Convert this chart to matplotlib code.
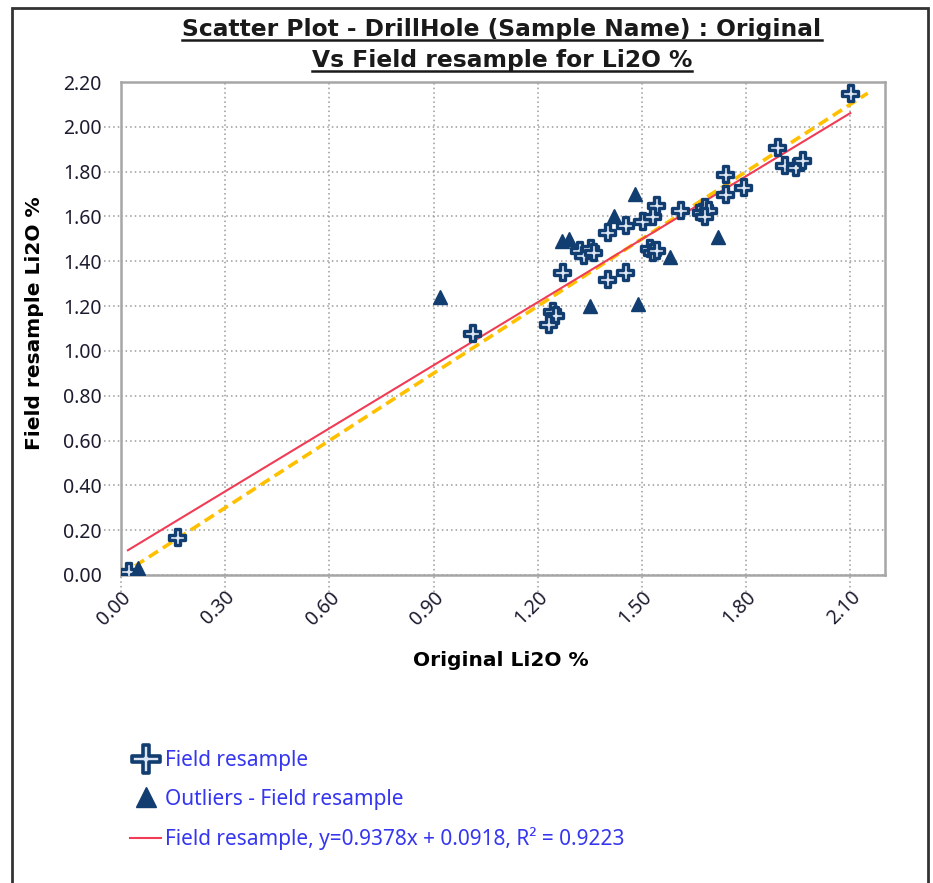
import matplotlib
matplotlib.use("Agg")
import matplotlib.pyplot as plt
from matplotlib.lines import Line2D
from matplotlib.patches import Rectangle
from matplotlib.path import Path
import matplotlib.transforms as mtransforms

# ---- data -------------------------------------------------------------
field_x = [0.02, 0.16, 1.01, 1.24, 1.25, 1.23, 1.27, 1.32, 1.33, 1.35, 1.36,
           1.40, 1.40, 1.45, 1.45, 1.50, 1.52, 1.53, 1.54, 1.54, 1.53, 1.61,
           1.67, 1.68, 1.69, 1.68, 1.74, 1.74, 1.79, 1.89, 1.91, 1.94, 1.96,
           2.10]
field_y = [0.02, 0.17, 1.08, 1.18, 1.16, 1.12, 1.35, 1.45, 1.43, 1.46, 1.44,
           1.32, 1.53, 1.56, 1.35, 1.58, 1.46, 1.44, 1.45, 1.65, 1.60, 1.63,
           1.62, 1.64, 1.63, 1.60, 1.79, 1.70, 1.73, 1.91, 1.83, 1.82, 1.85,
           2.15]

outlier_x = [0.05, 0.92, 1.27, 1.29, 1.35, 1.42, 1.48, 1.49, 1.58, 1.72]
outlier_y = [0.03, 1.24, 1.49, 1.50, 1.20, 1.60, 1.70, 1.21, 1.42, 1.51]

slope = 0.9378
intercept = 0.0918
r_squared = 0.9223

x_ticks = [0.00, 0.30, 0.60, 0.90, 1.20, 1.50, 1.80, 2.10]
y_ticks = [0.00, 0.20, 0.40, 0.60, 0.80, 1.00, 1.20, 1.40, 1.60, 1.80, 2.00, 2.20]

title_lines = ["Scatter Plot - DrillHole (Sample Name) : Original",
               "Vs Field resample for Li2O %"]
x_label = "Original Li2O %"
y_label = "Field resample Li2O %"
legend_labels = ["Field resample",
                 "Outliers - Field resample",
                 "Field resample, y=%.4fx + %.4f, R\u00b2 = %.4f" % (slope, intercept, r_squared)]

# ---- style ------------------------------------------------------------
FONT = ["Noto Sans", "DejaVu Sans"]
BOLD_FONT = ["DejaVu Sans"]
plt.rcParams["font.family"] = FONT
NAVY = "#123d70"
PLUS_FACE = "#dde6f2"
GRID = "#9a9a9a"
TEXT_BLUE = "#3636f0"
TICK_TEXT = "#1c1c30"


def plus_path(half_arm):
    """Closed plus-shaped outline with arms of half-width half_arm (unit box)."""
    a = half_arm
    verts = [(-a, 1), (a, 1), (a, a), (1, a), (1, -a), (a, -a), (a, -1),
             (-a, -1), (-a, -a), (-1, -a), (-1, a), (-a, a), (-a, 1)]
    codes = [Path.MOVETO] + [Path.LINETO] * 11 + [Path.CLOSEPOLY]
    return Path(verts, codes)


W, H = 933, 883
fig = plt.figure(figsize=(W / 100, H / 100), dpi=100)
fig.patch.set_facecolor("white")


def fx(px):
    return px / W


def fy(py):
    return 1 - py / H


ax = fig.add_axes([fx(121), fy(575), fx(885) - fx(121), fy(82) - fy(575)])
ax.set_xlim(0, 2.2)
ax.set_ylim(0, 2.2)

# grid
ax.set_axisbelow(True)
ax.grid(True, color=GRID, linestyle=(0, (1, 2)), linewidth=1.1)
for s in ax.spines.values():
    s.set_color("#a6a6a6")
    s.set_linewidth(1.8)

ax.set_xticks(x_ticks)
ax.set_yticks(y_ticks)
ax.set_xticklabels(["%.2f" % v for v in x_ticks], rotation=45, ha="right",
                   va="top", rotation_mode="anchor", color=TICK_TEXT, fontsize=14)
ax.set_yticklabels(["%.2f" % v for v in y_ticks], color=TICK_TEXT, fontsize=14)
ax.tick_params(axis="both", length=0)
ax.tick_params(axis="y", pad=14)
ax.tick_params(axis="x", pad=9)

# dotted tick extensions outside the frame
ytr = mtransforms.blended_transform_factory(ax.transAxes, ax.transData)
for v in y_ticks[1:-1]:
    ax.add_line(Line2D([-0.022, 0], [v, v], transform=ytr, color=GRID,
                       linestyle=(0, (1, 2)), linewidth=1.1, clip_on=False))
xtr = mtransforms.blended_transform_factory(ax.transData, ax.transAxes)
for v in x_ticks:
    ax.add_line(Line2D([v, v], [-0.035, 0], transform=xtr, color=GRID,
                       linestyle=(0, (1, 2)), linewidth=1.1, clip_on=False))

# 1:1 reference line
lim = max(max(field_x), max(field_y))
ax.plot([0, lim], [0, lim], color="#ffc000", linestyle=(0, (3, 1.6)),
        linewidth=2.6, zorder=2)

# regression line over the sample range
x0, x1 = min(field_x), max(field_x)
ax.plot([x0, x1], [slope * x0 + intercept, slope * x1 + intercept],
        color="#f03c55", linewidth=1.5, zorder=3)

# points
ax.plot(field_x, field_y, linestyle="none", marker=plus_path(0.3), markersize=12,
        markerfacecolor=PLUS_FACE, markeredgecolor=NAVY, markeredgewidth=2.4,
        zorder=4)
ax.plot(outlier_x, outlier_y, linestyle="none", marker="^", markersize=10,
        markerfacecolor=NAVY, markeredgecolor=NAVY, zorder=4)

# axis titles
fig.text(fx(35), fy(323), y_label, rotation=90, ha="center", va="center",
         fontsize=14.5, fontweight="bold", color="black", family=BOLD_FONT)
fig.text(fx(501), fy(661), x_label, ha="center", va="center",
         fontsize=14.5, fontweight="bold", color="black", family=BOLD_FONT)

# underlined two-line title
title_texts = [
    fig.text(fx(502), fy(36), title_lines[0], ha="center", va="baseline",
             fontsize=16.8, fontweight="bold", color="#1a1a1a", family=BOLD_FONT),
    fig.text(fx(502), fy(67), title_lines[1], ha="center", va="baseline",
             fontsize=16.8, fontweight="bold", color="#1a1a1a", family=BOLD_FONT),
]

# legend
handles = [
    Line2D([], [], linestyle="none", marker=plus_path(0.22), markersize=20,
           markerfacecolor=PLUS_FACE, markeredgecolor=NAVY, markeredgewidth=2.6),
    Line2D([], [], linestyle="none", marker="^", markersize=15,
           markerfacecolor=NAVY, markeredgecolor=NAVY),
    Line2D([], [], color="#f03c55", linewidth=1.5),
]
leg = fig.legend(handles, legend_labels, loc="upper left",
                 bbox_to_anchor=(fx(130), fy(750)), frameon=False,
                 fontsize=15, labelcolor=TEXT_BLUE, handlelength=1.5,
                 handletextpad=0.2, labelspacing=0.85, borderaxespad=0,
                 borderpad=0)

# outer frame
fig.add_artist(Rectangle((fx(12), fy(H + 5)), fx(928) - fx(12), fy(8) - fy(H + 5),
                         transform=fig.transFigure, fill=False,
                         edgecolor="#333333", linewidth=2))

fig.canvas.draw()
renderer = fig.canvas.get_renderer()
for t in title_texts:
    bb = t.get_window_extent(renderer)
    base = t.get_transform().transform(t.get_position())[1]
    yl = (base - 3.5) / H
    fig.add_artist(Line2D([bb.x0 / W, bb.x1 / W], [yl, yl],
                          transform=fig.transFigure, color="#1a1a1a",
                          linewidth=1.8))

fig.savefig("out.png", dpi=100, facecolor="white")
